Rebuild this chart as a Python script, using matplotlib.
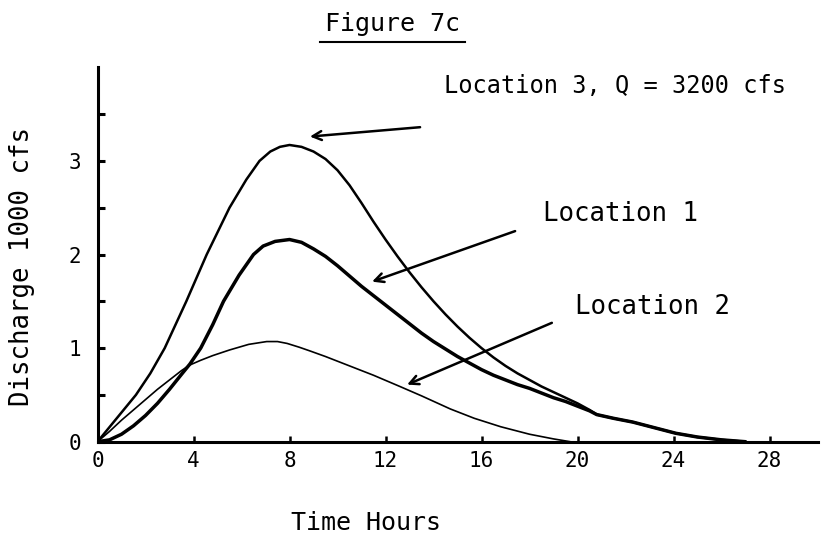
import matplotlib
matplotlib.use("Agg")
import matplotlib.pyplot as plt
from matplotlib.lines import Line2D

# values (hours, 1000 cfs)
hours_loc3 = [0, 0.8, 1.6, 2.2, 2.8, 3.7, 4.55, 5.5, 6.2, 6.75, 7.2, 7.6, 8.0, 8.5, 9.0, 9.5,
              10.0, 10.5, 11.0, 11.5, 12.0, 12.5, 13.0, 13.5, 14.0, 14.5, 15.0, 15.5, 16.0,
              16.5, 17.0, 17.5, 18.0, 18.5, 19.0, 19.5, 20.0, 20.5, 20.8,
              21.5, 22.3, 23.2, 24.1, 25.0, 26.0, 27.0]
flow_loc3 = [0, 0.25, 0.5, 0.73, 1.0, 1.5, 2.0, 2.5, 2.8, 3.0, 3.1, 3.15, 3.17, 3.15, 3.10, 3.02,
             2.90, 2.74, 2.55, 2.35, 2.16, 1.98, 1.81, 1.65, 1.50, 1.36, 1.23, 1.11, 1.00,
             0.90, 0.81, 0.73, 0.66, 0.59, 0.53, 0.47, 0.41, 0.34, 0.29,
             0.25, 0.21, 0.15, 0.09, 0.05, 0.02, 0.0]

hours_loc1 = [0, 0.5, 1, 1.5, 2, 2.5, 3, 3.5, 3.85, 4.3, 4.8, 5.25, 5.9, 6.5, 6.9, 7.4, 8.0,
              8.5, 9.0, 9.5, 10.0, 10.5, 11.0, 11.5, 12.0, 12.5, 13.0, 13.5, 14.0, 14.5,
              15.0, 15.5, 16.0, 16.5, 17.0, 17.5, 18.0, 18.5, 19.0, 19.5, 20.0, 20.5, 20.8,
              21.5, 22.3, 23.2, 24.1, 25.0, 26.0, 27.0]
flow_loc1 = [0, 0.02, 0.08, 0.17, 0.28, 0.41, 0.56, 0.72, 0.83, 1.0, 1.25, 1.5, 1.78, 2.0, 2.09,
             2.14, 2.16, 2.13, 2.06, 1.98, 1.88, 1.77, 1.66, 1.56, 1.46, 1.36, 1.26, 1.16, 1.07,
             0.99, 0.91, 0.84, 0.77, 0.71, 0.66, 0.61, 0.57, 0.52, 0.47, 0.43, 0.38, 0.33, 0.29,
             0.25, 0.21, 0.15, 0.09, 0.05, 0.02, 0.0]

hours_loc2 = [0, 0.5, 1, 1.5, 2, 2.5, 3, 3.5, 3.85, 4.3, 4.8, 5.5, 6.3, 7.05, 7.5, 7.9, 8.4,
              8.85, 9.5, 10.5, 11.5, 12.6, 13.5, 14.7, 15.7, 16.8, 18.0, 19.0, 19.7]
flow_loc2 = [0, 0.11, 0.23, 0.34, 0.45, 0.56, 0.66, 0.76, 0.82, 0.87, 0.92, 0.98, 1.04, 1.07,
             1.07, 1.05, 1.01, 0.97, 0.91, 0.81, 0.71, 0.59, 0.49, 0.35, 0.25, 0.16, 0.08,
             0.03, 0.0]

x_ticks = [4, 8, 12, 16, 20, 24, 28]
x_ticklabels = ["0", "4", "8", "12", "16", "20", "24", "28"]
y_major = [0, 1, 2, 3]
y_minor = [0.5, 1.5, 2.5, 3.5]

plt.rcParams["font.family"] = "DejaVu Sans Mono"

fig = plt.figure(figsize=(8.32, 5.40), dpi=100)
ax = fig.add_axes([0.1172, 0.182, 0.8654, 0.6934])

ax.plot(hours_loc3, flow_loc3, color="black", lw=1.8, solid_capstyle="round", solid_joinstyle="round")
ax.plot(hours_loc1, flow_loc1, color="black", lw=2.5, solid_capstyle="round", solid_joinstyle="round")
ax.plot(hours_loc2, flow_loc2, color="black", lw=1.2, solid_capstyle="round", solid_joinstyle="round")

ax.set_xlim(0, 30)
ax.set_ylim(0, 4.0)
for s in ["top", "right"]:
    ax.spines[s].set_visible(False)
for s in ["left", "bottom"]:
    ax.spines[s].set_linewidth(2.2)

ax.set_xticks([0] + x_ticks)
ax.set_xticklabels(x_ticklabels, fontsize=15)
ax.set_yticks(y_major)
ax.set_yticklabels([str(v) for v in y_major], fontsize=15)
ax.set_yticks(y_minor, minor=True)
ax.tick_params(axis="x", direction="in", length=4, width=1.8, pad=7)
ax.tick_params(axis="y", which="both", direction="in", length=5, width=2.2, pad=12)

# hand-drawn pointer arrows
arrow = dict(arrowstyle="->", color="black", lw=1.8, mutation_scale=16, shrinkA=0, shrinkB=0)
ax.annotate("", xy=(8.85, 3.26), xytext=(13.44, 3.36), arrowprops=arrow)
ax.annotate("", xy=(11.44, 1.71), xytext=(17.4, 2.25), arrowprops=arrow)
ax.annotate("", xy=(12.9, 0.61), xytext=(18.93, 1.27), arrowprops=arrow)

ax.text(14.42, 3.80, "Location 3, Q = 3200 cfs", fontsize=17, va="center", ha="left")
ax.text(18.55, 2.43, "Location 1", fontsize=18.5, va="center", ha="left")
ax.text(19.88, 1.44, "Location 2", fontsize=18.5, va="center", ha="left")

fig.text(0.472, 0.955, "Figure 7c", fontsize=18, ha="center", va="center")
fig.add_artist(Line2D([0.385, 0.559], [0.922, 0.922], color="black", lw=1.5))

fig.text(22 / 832, 1 - 266 / 540, "Discharge 1000 cfs", fontsize=18.5, rotation=90,
         ha="center", va="center")
fig.text(366 / 832, 1 - 523 / 540, "Time Hours", fontsize=18, ha="center", va="center")

fig.savefig("out.png", dpi=100)
